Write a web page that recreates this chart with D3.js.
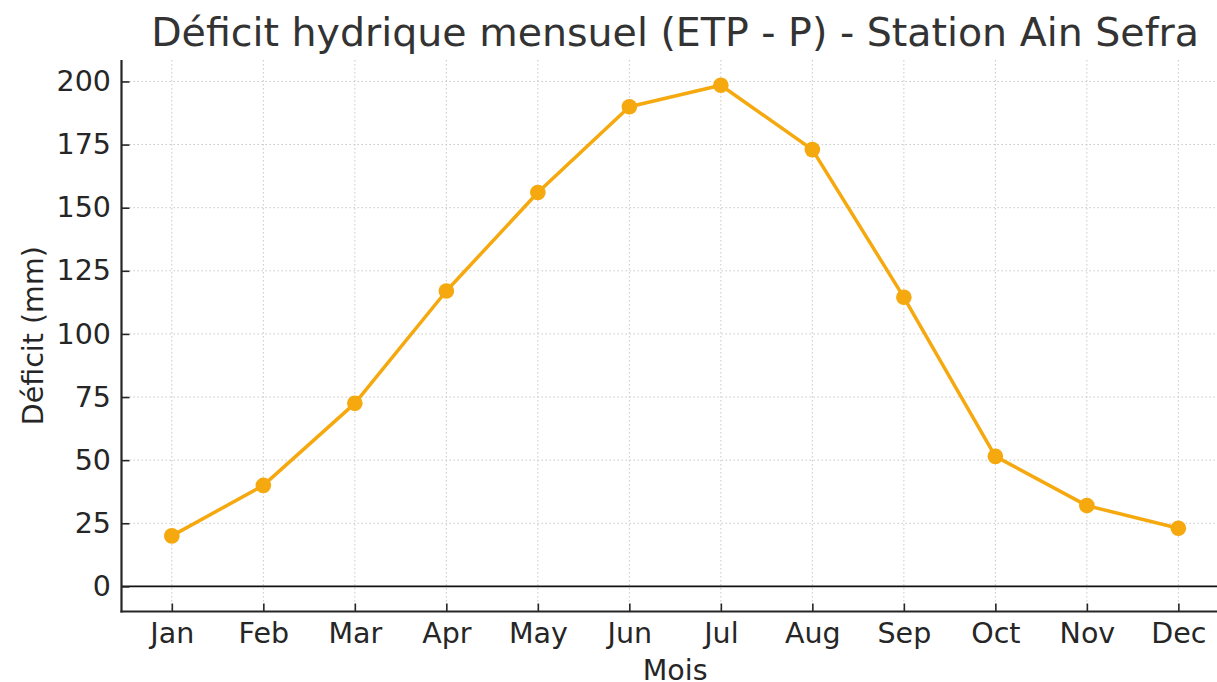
<!DOCTYPE html>
<html>
<head>
<meta charset="utf-8">
<script src="https://cdn.jsdelivr.net/npm/d3@7"></script>
<style>
  body { margin: 0; background: #fff; }
  svg { display: block; font-family: "DejaVu Sans", sans-serif; }
</style>
</head>
<body>
<div id="chart"></div>
<script>
const months = ['Jan', 'Feb', 'Mar', 'Apr', 'May', 'Jun', 'Jul', 'Aug', 'Sep', 'Oct', 'Nov', 'Dec'];
const deficit = [20, 40, 72.5, 117, 156, 190, 198.5, 173, 114.5, 51.5, 32, 23];
const yTicks = [0, 25, 50, 75, 100, 125, 150, 175, 200];

const W = 1217, H = 682;
const mL = 121.5, mR = 1228.7, mT = 60, mB = 611.5;
const lineColor = '#f5a90f';
const fs = 28.5;

const svg = d3.select('#chart').append('svg')
  .attr('width', W).attr('height', H);

const x = d3.scaleLinear().domain([-0.55, 11.55]).range([mL, mR]);
const y = d3.scaleLinear().domain([-9.95, 208.5]).range([mB, mT]);

// grid
const grid = svg.append('g').attr('stroke', '#c8c8c8').attr('stroke-width', 1)
  .attr('stroke-dasharray', '1.5,2.5');
grid.selectAll('.gx').data(months).join('line')
  .attr('x1', (d, i) => x(i)).attr('x2', (d, i) => x(i))
  .attr('y1', mT).attr('y2', mB);
grid.selectAll('.gy').data(yTicks).join('line')
  .attr('x1', mL).attr('x2', mR)
  .attr('y1', d => y(d)).attr('y2', d => y(d));

// zero line
svg.append('line')
  .attr('x1', mL).attr('x2', mR)
  .attr('y1', y(0)).attr('y2', y(0))
  .attr('stroke', '#111').attr('stroke-width', 1.8);

// axes
const yAxis = svg.append('g').attr('transform', `translate(${mL},0)`)
  .call(d3.axisLeft(y).tickValues(yTicks).tickSize(-8).tickPadding(10.5));
const xAxis = svg.append('g').attr('transform', `translate(0,${mB})`)
  .call(d3.axisBottom(x).tickValues(d3.range(12)).tickFormat(i => months[i]).tickSize(-8).tickPadding(11));

[yAxis, xAxis].forEach(a => {
  a.select('.domain').remove();
  a.selectAll('line').attr('stroke', '#262626').attr('stroke-width', 1.6);
  a.selectAll('text').attr('fill', '#262626').attr('font-size', fs)
    .attr('font-family', '"DejaVu Sans", sans-serif');
});

// spines
svg.append('line').attr('x1', mL).attr('x2', mL).attr('y1', mT).attr('y2', mB + 1)
  .attr('stroke', '#262626').attr('stroke-width', 2.2);
svg.append('line').attr('x1', mL - 1).attr('x2', mR).attr('y1', mB).attr('y2', mB)
  .attr('stroke', '#262626').attr('stroke-width', 2.2);

// series
const line = d3.line().x((d, i) => x(i)).y(d => y(d));
svg.append('path').datum(deficit)
  .attr('d', line).attr('fill', 'none')
  .attr('stroke', lineColor).attr('stroke-width', 3.5)
  .attr('stroke-linejoin', 'round');
svg.selectAll('.pt').data(deficit).join('circle')
  .attr('cx', (d, i) => x(i)).attr('cy', d => y(d)).attr('r', 7.8)
  .attr('fill', lineColor);

// labels
svg.append('text')
  .attr('x', (mL + mR) / 2).attr('y', 46)
  .attr('text-anchor', 'middle').attr('font-size', 39.5).attr('fill', '#333')
  .text('Déficit hydrique mensuel (ETP - P) - Station Ain Sefra');
svg.append('text')
  .attr('x', (mL + mR) / 2).attr('y', 680)
  .attr('text-anchor', 'middle').attr('font-size', fs).attr('fill', '#262626')
  .text('Mois');
svg.append('text')
  .attr('transform', `translate(43,${(mT + mB) / 2}) rotate(-90)`)
  .attr('text-anchor', 'middle').attr('font-size', fs).attr('fill', '#262626')
  .text('Déficit (mm)');
</script>
</body>
</html>
